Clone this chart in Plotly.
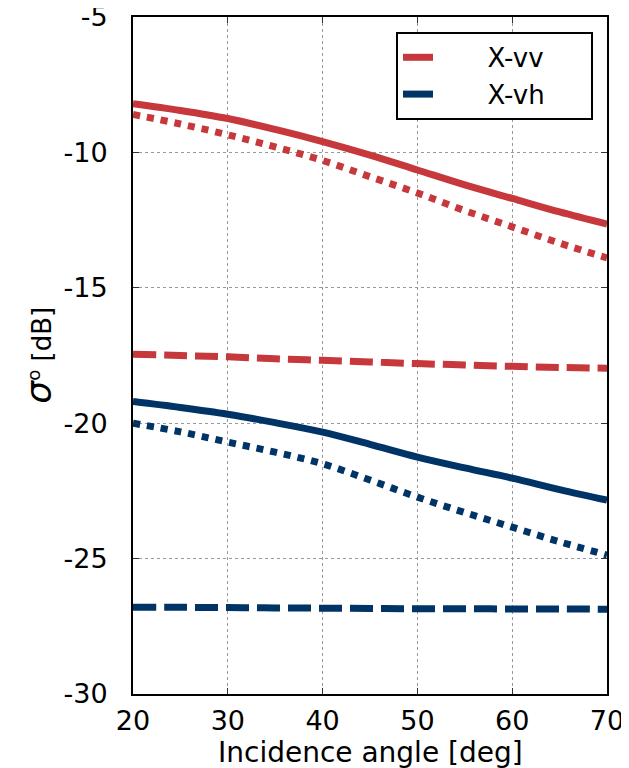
import plotly.graph_objects as go

angle = [20, 25, 30, 35, 40, 45, 50, 55, 60, 65, 70]

vv_total = [-8.2, -8.45, -8.75, -9.15, -9.6, -10.1, -10.65, -11.2, -11.7, -12.2, -12.65]
vv_dotted = [-8.6, -8.95, -9.35, -9.8, -10.3, -10.9, -11.5, -12.15, -12.75, -13.35, -13.9]
vv_dashed = [-17.45, -17.5, -17.55, -17.62, -17.68, -17.74, -17.8, -17.85, -17.9, -17.94, -17.97]

vh_total = [-19.2, -19.42, -19.67, -19.98, -20.33, -20.78, -21.25, -21.65, -22.03, -22.45, -22.84]
vh_dotted = [-20.0, -20.32, -20.7, -21.07, -21.5, -22.1, -22.73, -23.3, -23.84, -24.38, -24.87]
vh_dashed = [-26.8, -26.8, -26.81, -26.82, -26.83, -26.84, -26.85, -26.85, -26.86, -26.86, -26.87]

x_ticks = [20, 30, 40, 50, 60, 70]
y_ticks = [-30, -25, -20, -15, -10, -5]
y_tick_labels = ["-30", "-25", "-20", "-15", "-10", "-5"]

RED = "#c6383b"
BLUE = "#003366"
LW = 7
NB = "\u00a0"

fig = go.Figure()
series = [
    (vv_total, RED, "solid", NB * 6 + "X-vv" + NB * 5, True),
    (vv_dotted, RED, "dot", None, False),
    (vv_dashed, RED, "23px,8px", None, False),
    (vh_total, BLUE, "solid", NB * 6 + "X-vh" + NB * 5, True),
    (vh_dotted, BLUE, "dot", None, False),
    (vh_dashed, BLUE, "23px,8px", None, False),
]
for y, c, d, name, show in series:
    fig.add_trace(go.Scatter(
        x=angle, y=y, mode="lines", name=name, showlegend=show,
        line=dict(color=c, width=LW, dash=d, shape="spline"),
    ))

fig.update_layout(
    width=621, height=760,
    margin=dict(l=125, r=22, t=8.5, b=74, autoexpand=False),
    paper_bgcolor="white", plot_bgcolor="white",
    font=dict(family="DejaVu Sans", color="black", size=27),
    legend=dict(
        x=0.9705, y=0.978, xanchor="right", yanchor="top",
        bordercolor="black", borderwidth=2, bgcolor="white",
        font=dict(size=26), tracegroupgap=0,
    ),
    annotations=[
        dict(text="Incidence angle [deg]", xref="paper", yref="paper",
             x=0.5, y=-0.086, xanchor="center", yanchor="middle",
             showarrow=False, font=dict(size=28)),
        dict(text="<span style='font-size:36px'><i>σ</i></span><sup>o</sup> [dB]",
             xref="paper", yref="paper", x=-0.2, y=0.5, textangle=-90,
             xanchor="center", yanchor="middle", showarrow=False,
             font=dict(size=26)),
    ],
)
fig.update_xaxes(
    range=[20, 70], tickvals=x_ticks,
    ticks="inside", ticklen=6, tickcolor="#333", mirror="ticks",
    showline=True, linecolor="black", linewidth=2,
    showgrid=True, gridcolor="#999999", griddash="dot", gridwidth=1,
    zeroline=False, tickfont=dict(size=27), automargin=False,
    ticklabelstandoff=2, ticklabeloverflow="allow",
)
fig.update_yaxes(
    range=[-30, -5], tickvals=y_ticks, ticktext=y_tick_labels,
    ticks="inside", ticklen=6, tickcolor="#333", mirror="ticks",
    showline=True, linecolor="black", linewidth=2,
    showgrid=True, gridcolor="#999999", griddash="dot", gridwidth=1,
    zeroline=False, tickfont=dict(size=27), automargin=False,
    ticklabelstandoff=18, ticklabeloverflow="allow",
)

fig.write_html("out.html")
